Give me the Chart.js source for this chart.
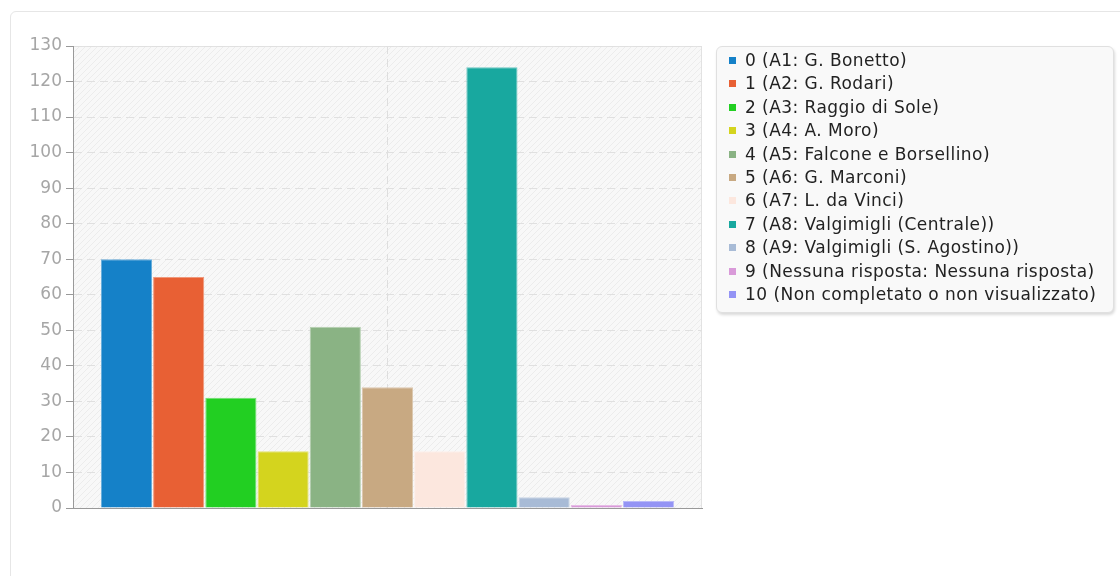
<!DOCTYPE html>
<html>
<head>
<meta charset="utf-8">
<script src="https://cdn.jsdelivr.net/npm/chart.js@4/dist/chart.umd.min.js"></script>
<style>
  body { margin: 0; background: #fff; font-family: "DejaVu Sans", sans-serif; }
  #frame { position: absolute; left: 10px; top: 11px; width: 1130px; height: 600px;
    border: 1px solid #e6e6e6; border-radius: 6px; }
  #chart-box { position: absolute; left: 0; top: 0; width: 720px; height: 540px; }
  #legend { position: absolute; left: 716px; top: 46px; width: 396px; height: 263px;
    border: 1px solid #e0e0e0; border-radius: 6px; background: #f9f9f9;
    box-shadow: 1px 2px 3px rgba(0,0,0,0.15); padding-top: 2px; box-sizing: content-box; }
  .item { height: 23.4px; line-height: 23.4px; font-size: 17px; letter-spacing: 0.45px; color: #222; white-space: nowrap; position: relative; padding-left: 28px; }
  .item span.sw { position: absolute; left: 12px; top: 8px; width: 7px; height: 7px; }
</style>
</head>
<body>
<div id="frame"></div>
<div id="chart-box"><canvas id="myChart" width="720" height="540"></canvas></div>
<div id="legend"></div>
<script>
// dati
const labels = [
  "0 (A1: G. Bonetto)",
  "1 (A2: G. Rodari)",
  "2 (A3: Raggio di Sole)",
  "3 (A4: A. Moro)",
  "4 (A5: Falcone e Borsellino)",
  "5 (A6: G. Marconi)",
  "6 (A7: L. da Vinci)",
  "7 (A8: Valgimigli (Centrale))",
  "8 (A9: Valgimigli (S. Agostino))",
  "9 (Nessuna risposta: Nessuna risposta)",
  "10 (Non completato o non visualizzato)"
];
const values = [70, 65, 31, 16, 51, 34, 16, 124, 3, 0, 2];
const colors = ["#1581c8", "#e86034", "#22cf22", "#d4d41e", "#8ab384", "#c8a982",
  "#fce7de", "#18a89f", "#a8bbd6", "#d99ad9", "#9494f5"];
const yTicks = [0, 130, 10]; // min, max, passo

function lighten(hex, amt) {
  const n = parseInt(hex.slice(1), 16);
  const r = (n >> 16) & 255, g = (n >> 8) & 255, b = n & 255;
  const f = c => Math.round(c + (255 - c) * amt);
  return `rgb(${f(r)},${f(g)},${f(b)})`;
}

// sfondo a righe diagonali
const pat = document.createElement('canvas');
pat.width = 6; pat.height = 6;
const pc = pat.getContext('2d');
pc.fillStyle = '#f8f8f8';
pc.fillRect(0, 0, 6, 6);
pc.strokeStyle = '#ececec';
pc.lineWidth = 1;
pc.beginPath();
pc.moveTo(0, 6); pc.lineTo(6, 0);
pc.moveTo(-3, 3); pc.lineTo(3, -3);
pc.moveTo(3, 9); pc.lineTo(9, 3);
pc.stroke();

const areaBg = {
  id: 'areaBg',
  beforeDraw(chart) {
    const { ctx, chartArea: a } = chart;
    ctx.save();
    ctx.fillStyle = ctx.createPattern(pat, 'repeat');
    ctx.fillRect(a.left, a.top, a.right - a.left, a.bottom - a.top);
    ctx.strokeStyle = '#e2e2e2';
    ctx.lineWidth = 1;
    ctx.strokeRect(a.left + 0.5, a.top + 0.5, a.right - a.left - 1, a.bottom - a.top);
    ctx.restore();
  }
};

const datasets = labels.map((l, i) => ({
  label: l,
  data: [values[i]],
  backgroundColor: colors[i],
  borderColor: lighten(colors[i], 0.35),
  borderWidth: 1,
  borderSkipped: 'bottom',
  minBarLength: values[i] === 0 ? 3 : 0
}));

const ctx = document.getElementById('myChart').getContext('2d');
const chart = new Chart(ctx, {
  type: 'bar',
  data: { labels: [''], datasets: datasets },
  options: {
    responsive: false,
    animation: false,
    categoryPercentage: 0.913,
    barPercentage: 0.98,
    layout: { padding: { left: 0, top: 46, right: 18, bottom: 32 } },
    scales: {
      x: {
        offset: true,
        ticks: { display: false },
        grid: { offset: false, color: '#dedede', drawTicks: false },
        border: { color: '#999', width: 1, dash: [8, 5] },
        afterFit: s => { s.height = 0; }
      },
      y: {
        min: yTicks[0],
        max: yTicks[1],
        ticks: { stepSize: yTicks[2], color: '#a6a6a6', padding: 4,
          font: { family: 'DejaVu Sans', size: 17 } },
        grid: { color: '#e0e0e0', tickLength: 7, tickColor: '#999', tickBorderDash: [] },
        border: { color: '#999', width: 1, dash: [8, 5] },
        afterFit: s => { s.width = 73; }
      }
    },
    plugins: {
      legend: { display: false },
      tooltip: { enabled: false }
    }
  },
  plugins: [areaBg]
});

// legenda
const leg = document.getElementById('legend');
labels.forEach((l, i) => {
  const d = document.createElement('div');
  d.className = 'item';
  const sw = document.createElement('span');
  sw.className = 'sw';
  sw.style.background = colors[i];
  d.appendChild(sw);
  d.appendChild(document.createTextNode(l));
  leg.appendChild(d);
});
</script>
</body>
</html>
